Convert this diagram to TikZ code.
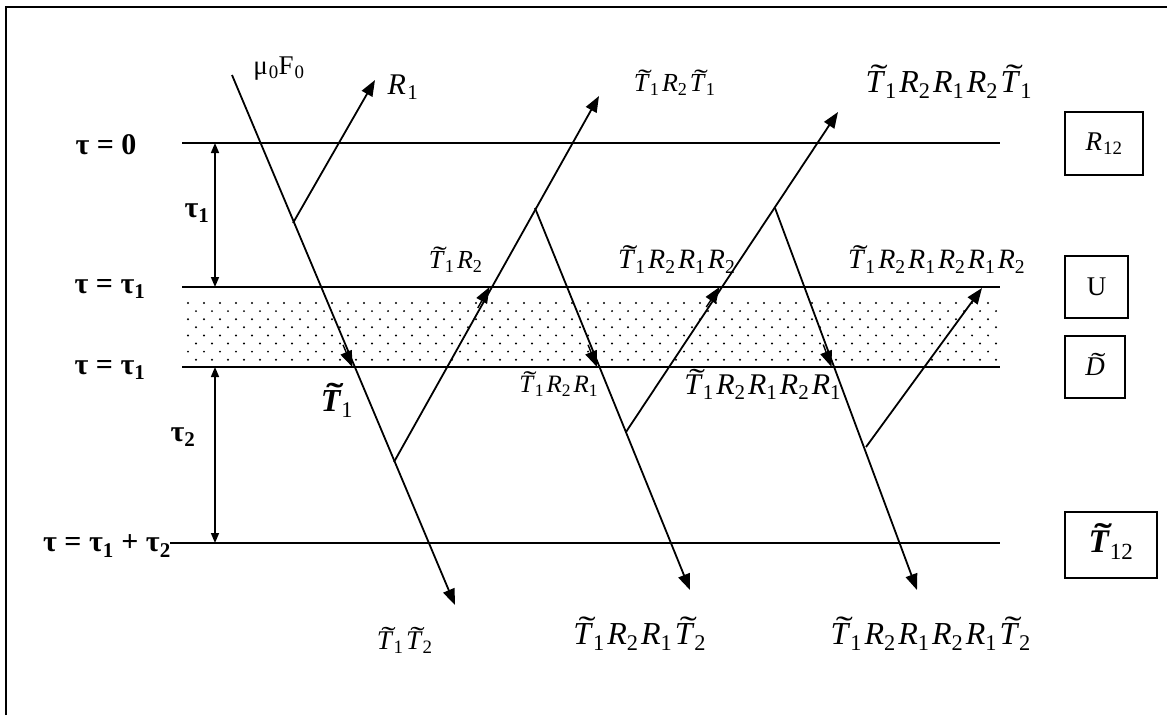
\documentclass[tikz,border=0pt]{standalone}
\usepackage{fontspec}
\usepackage{graphicx}
\setmainfont{Liberation Serif}
\usetikzlibrary{
  arrows.meta,
  calc
}
% pieces of the ray labels
\newcommand{\tld}[1]{{\ooalign{#1\cr\hidewidth\kern0.24em\raisebox{0.17em}{\scalebox{1.6}[1]{\char"02DC}}\hidewidth\cr}}}
\newcommand{\Tl}[1]{\tld{\textit{T}}\textsubscript{#1}\kern2.5pt}
\newcommand{\Rl}[1]{\textit{R}\textsubscript{#1}\kern2.5pt}

\begin{document}
\begin{tikzpicture}[x=1pt, y=-1pt,
      level/.style={line width=1.8pt},
      ray/.style={line width=1.8pt, -{Triangle[length=16pt, width=12pt]}},
      gap/.style={line width=1.5pt, {Triangle[length=10pt, width=8pt]}-{Triangle[length=10pt, width=8pt]}},
      taulab/.style={font=\fontsize{30}{32}\selectfont\bfseries, inner sep=0pt},
      lab/.style={font=\fontsize{#1}{#1}\selectfont, inner sep=0pt},
      lab/.default=26,
      boxlab/.style={draw, line width=1.5pt, inner sep=0pt, font=\fontsize{27}{29}\selectfont}
    ]
      \useasboundingbox (0,0) rectangle (1167,715);

      % Frame
      \draw[line width=1.8pt] (6,715) -- (6,7) -- (1167,7);

      % Dotted layer
      \foreach \r in {0,...,7}{
        \pgfmathsetmacro\yy{303+8.1*\r}
        \pgfmathsetmacro\xo{188+8*mod(\r,2)}
        \foreach \c in {0,...,50}
          \fill (\xo+16*\c,\yy) circle (1.1pt);
      }

      % Levels
      \coordinate (l0) at (182,143);
      \coordinate (l1) at (182,287);
      \coordinate (l2) at (182,367);
      \coordinate (l3) at (170,543);
      \draw[level] (l0) -- (1000,143);
      \draw[level] (l1) -- (1000,287);
      \draw[level] (l2) -- (1000,367);
      \draw[level] (l3) -- (1000,543);

      % Thickness arrows
      \coordinate (g0) at (215,143);
      \coordinate (g1) at (215,287);
      \coordinate (g2) at (215,367);
      \coordinate (g3) at (215,543);
      \draw[gap] (g0) -- (g1);
      \draw[gap] (g2) -- (g3);

      % Level labels
      \node[taulab] (tz) at (106,145) {τ = 0};
      \node[taulab] (ta) at (110,289) {τ = τ\textsubscript{1}};
      \node[taulab] (tb) at (110,370) {τ = τ\textsubscript{1}};
      \node[taulab] (tc) at (107,546) {τ = τ\textsubscript{1} + τ\textsubscript{2}};
      \node[taulab] (d1) at (197,213) {τ\textsubscript{1}};
      \node[taulab] (d2) at (183,437) {τ\textsubscript{2}};

      % Ray points
      \coordinate (s0) at (232,75);
      \coordinate (p1) at (293,223);
      \coordinate (r1) at (375,80);
      \coordinate (p2) at (394,462);
      \coordinate (t1) at (455,605);
      \coordinate (p3) at (535,208);
      \coordinate (u1) at (599,96);
      \coordinate (p4) at (626,432);
      \coordinate (t2) at (690,590);
      \coordinate (p5) at (775,208);
      \coordinate (u2) at (838,112);
      \coordinate (p6) at (866,447);
      \coordinate (t3) at (917,590);
      \coordinate (u3) at (982,288);

      % Rays
      \draw[ray] (s0) -- (t1);
      \draw[ray] (p1) -- (r1);
      \draw[ray] (p2) -- (u1);
      \draw[ray] (p3) -- (t2);
      \draw[ray] (p4) -- (u2);
      \draw[ray] (p5) -- (t3);
      \draw[ray] (p6) -- (u3);

      % Arrows at the layer
      \coordinate (a1) at ($(s0)!{292/530}!(t1)$);
      \coordinate (a2) at ($(p2)!{175/366}!(u1)$);
      \coordinate (a3) at ($(p3)!{159/382}!(t2)$);
      \coordinate (a4) at ($(p4)!{145/320}!(u2)$);
      \coordinate (a5) at ($(p5)!{159/382}!(t3)$);
      \foreach \a/\b in {a1/s0, a2/p2, a3/p3, a4/p4, a5/p5}
        \draw[ray, line width=1.4pt, transform canvas={xshift=-2.5pt}] ($(\a)!24pt!(\b)$) -- (\a);

      % Ray labels
      \node[lab=27] (mu) at (279,69) {μ\kern1pt\textsubscript{0}F\kern1pt\textsubscript{0}};
      \node[lab=30] (lr1) at (403,87) {\textit{R}\kern1.5pt\textsubscript{1}};
      \node[lab] (lu1) at (676,85) {\Tl{1}\Rl{2}\Tl{1}};
      \node[lab=32] (lu2) at (950,85) {\Tl{1}\Rl{2}\Rl{1}\Rl{2}\Tl{1}};
      \node[lab] (lm1) at (457,262) {\Tl{1}\Rl{2}};
      \node[lab=28] (lm2) at (678,262) {\Tl{1}\Rl{2}\Rl{1}\Rl{2}};
      \node[lab=28] (lm3) at (938,262) {\Tl{1}\Rl{2}\Rl{1}\Rl{2}\Rl{1}\Rl{2}};
      \node[lab=25] (ld1) at (560,386) {\Tl{1}\Rl{2}\Rl{1}};
      \node[lab=30] (ld2) at (764,387) {\Tl{1}\Rl{2}\Rl{1}\Rl{2}\Rl{1}};
      \node[lab=27] (lb1) at (406,643) {\Tl{1}\Tl{2}};
      \node[lab=32] (lb2) at (641,637) {\Tl{1}\Rl{2}\Rl{1}\Tl{2}};
      \node[lab=32] (lb3) at (932,637) {\Tl{1}\Rl{2}\Rl{1}\Rl{2}\Rl{1}\Tl{2}};
      \node[lab=32] (lt1) at (337,404) {\bfseries\tld{\textit{T}}\mdseries\textsubscript{1}};

      % Boxes
      \node[boxlab, minimum width=78pt, minimum height=63pt] (bR) at (1104,143.5) {\textit{R}\kern1pt\textsubscript{12}};
      \node[boxlab, minimum width=63pt, minimum height=62pt] (bU) at (1096.5,287) {U};
      \node[boxlab, minimum width=60pt, minimum height=62pt] (bD) at (1095,367) {\tld{\textit{D}}};
      \node[boxlab, minimum width=92pt, minimum height=66pt, font=\fontsize{33}{35}\selectfont] (bT) at (1111,545) {\bfseries\tld{\textit{T}}\mdseries\textsubscript{12}};
\end{tikzpicture}
\end{document}
